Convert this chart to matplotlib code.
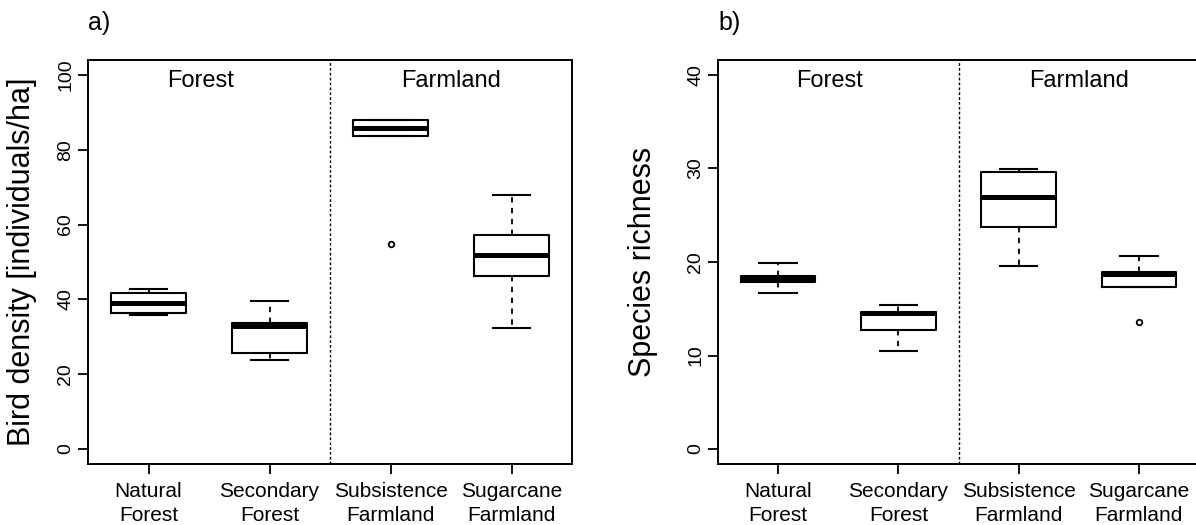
import matplotlib
matplotlib.use("Agg")
import matplotlib.pyplot as plt

plt.rcParams['font.family'] = ['Liberation Sans', 'DejaVu Sans']

# habitat types (same order in both panels)
habitats = ["Natural\nForest", "Secondary\nForest", "Subsistence\nFarmland", "Sugarcane\nFarmland"]

# a) bird density [individuals/ha], five-number summaries
dens_low = [35.7, 23.9, 83.75, 32.3]
dens_q1 = [36.5, 25.7, 83.75, 46.3]
dens_med = [39.0, 32.9, 85.9, 52.0]
dens_q3 = [41.6, 33.6, 88.0, 57.1]
dens_high = [42.7, 39.5, 88.0, 67.9]
dens_out = [[], [], [54.8], []]

# b) species richness
rich_low = [16.7, 10.5, 19.6, 17.3]
rich_q1 = [17.9, 12.75, 23.75, 17.3]
rich_med = [18.2, 14.5, 26.9, 18.75]
rich_q3 = [18.55, 14.65, 29.6, 18.95]
rich_high = [19.9, 15.35, 29.9, 20.6]
rich_out = [[], [], [], [13.6]]


def make_stats(low, q1, med, q3, high, out):
    stats = []
    for i in range(len(med)):
        stats.append(dict(whislo=low[i], q1=q1[i], med=med[i], q3=q3[i],
                          whishi=high[i], fliers=out[i]))
    return stats


def draw_panel(ax, stats, ymax, yticks, ylabel, letter, label_x):
    pos = [1, 2, 3, 4]
    ax.bxp(stats, positions=pos, widths=0.62, capwidths=0.31, showfliers=True,
           boxprops=dict(color='black', linewidth=1.5),
           medianprops=dict(color='black', linewidth=3.6, solid_capstyle='butt'),
           whiskerprops=dict(color='black', linewidth=1.3, linestyle=(0, (3, 3))),
           capprops=dict(color='black', linewidth=1.5),
           flierprops=dict(marker='o', markersize=4, markerfacecolor='white',
                           markeredgecolor='black', markeredgewidth=1.3))
    pad = ymax * 0.04
    ax.set_xlim(0.5, 4.5)
    ax.set_ylim(-pad, ymax + pad)
    ax.axvline(2.5, color='black', linewidth=1.0, linestyle=(0, (2, 1.5)))
    ax.set_xticks(pos)
    ax.set_xticklabels(habitats, fontsize=15, linespacing=1.3)
    ax.set_yticks(yticks)
    ax.set_yticklabels([str(t) for t in yticks], fontsize=14, rotation=90, va='center')
    ax.tick_params(axis='x', length=7, width=1.3, pad=6)
    ax.tick_params(axis='y', length=7, width=1.3, pad=3)
    for s in ax.spines.values():
        s.set_linewidth(1.4)
    ax.text(1.43, ymax * 0.984, "Forest", fontsize=17, ha='center', va='center')
    ax.text(3.5, ymax * 0.984, "Farmland", fontsize=17, ha='center', va='center')
    ax.set_ylabel(ylabel, fontsize=22)
    ax.yaxis.set_label_coords(label_x, 0.5)
    bb = ax.get_position()
    ax.figure.text(bb.x0, 1 - 23 / 525, letter, fontsize=18, ha='left', va='center')


fig = plt.figure(figsize=(11.96, 5.25), dpi=100)
ax1 = fig.add_axes([88 / 1196, 61 / 525, 484 / 1196, 404 / 525])
ax2 = fig.add_axes([718 / 1196, 61 / 525, 481 / 1196, 404 / 525])

draw_panel(ax1, make_stats(dens_low, dens_q1, dens_med, dens_q3, dens_high, dens_out),
           100, [0, 20, 40, 60, 80, 100], "Bird density [individuals/ha]", "a)", -0.105)
draw_panel(ax2, make_stats(rich_low, rich_q1, rich_med, rich_q3, rich_high, rich_out),
           40, [0, 10, 20, 30, 40], "Species richness", "b)", -0.125)

fig.savefig("out.png", dpi=100)
